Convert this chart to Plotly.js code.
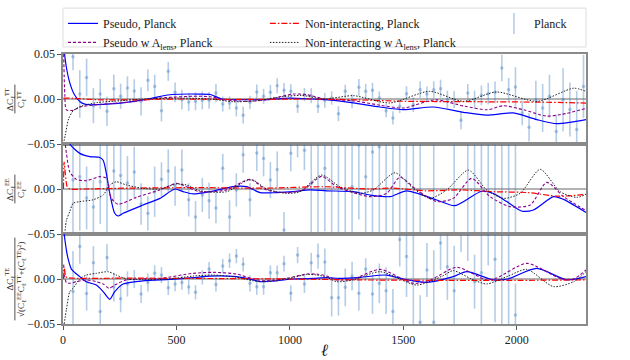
<!DOCTYPE html>
<html>
<head>
<meta charset="utf-8">
<script src="https://cdn.plot.ly/plotly-3.0.1.min.js"></script>
<style>html,body{margin:0;padding:0;background:#fff}</style>
</head>
<body>
<div id="myPlot" style="width:630px;height:360px"></div>
<script>
// Planck binned points (multipole bin centres), one set per panel
const ttEll = [44, 74, 104, 134, 164, 194, 224, 254, 284, 314, 344, 374, 404, 434, 464, 494, 524, 554, 584, 614,
  644, 674, 704, 734, 764, 794, 824, 854, 884, 914, 944, 974, 1004, 1034, 1064, 1094, 1124, 1154, 1184, 1214,
  1244, 1274, 1304, 1334, 1364, 1394, 1424, 1454, 1484, 1514, 1544, 1574, 1604, 1634, 1664, 1694, 1724, 1754, 1784, 1814,
  1844, 1874, 1904, 1934, 1964, 1994, 2024, 2054, 2084, 2114, 2144, 2174, 2204, 2234, 2264, 2294];
const ttVal = [0.047, 0.0056, 0.024, -0.0074, 0.0056, -0.0137, 0.0115, 0.003, 0.0122, 0.0089, -0.0026, 0.0207, 0.014, -0.013, 0.0307, 0.0074, -0.0007, -0.0033, -0.0026, -0.0015,
  -0.0015, 0.0067, -0.0056, -0.0044, -0.010, -0.018, -0.0037, 0.0078, 0.003, 0.0074, 0.0148, 0.0096, 0.0085, -0.0081, 0.0048, 0.0037, -0.0081, -0.0015, 0.0011, -0.0163,
  0.0085, -0.0026, 0.013, 0.0085, 0.0096, 0.0011, -0.013, -0.021, -0.0081, 0.0059, -0.0063, 0.0104, 0.0056, 0.0104, 0.0115, -0.0007, -0.0007, -0.0237, 0.0067, -0.0007,
  0.0041, 0.0059, 0.0074, 0.0344, 0.0104, 0.0133, -0.0155, -0.0315, -0.0007, -0.010, 0.003, -0.036, -0.0007, -0.0118, -0.034, 0.014];
const ttErr = [0.015, 0.0265, 0.021, 0.0194, 0.0167, 0.0163, 0.0157, 0.014, 0.013, 0.013, 0.0156, 0.012, 0.013, 0.012, 0.0105, 0.011, 0.011, 0.010, 0.010, 0.010,
  0.0093, 0.010, 0.0083, 0.0074, 0.0093, 0.0093, 0.0074, 0.0083, 0.0083, 0.0083, 0.0083, 0.0083, 0.0078, 0.0074, 0.0074, 0.0083, 0.0074, 0.0083, 0.0074, 0.0083,
  0.0074, 0.0078, 0.0093, 0.0083, 0.0083, 0.0074, 0.0074, 0.0074, 0.0074, 0.0083, 0.0083, 0.0093, 0.0083, 0.0093, 0.010, 0.010, 0.0093, 0.010, 0.010, 0.010,
  0.011, 0.012, 0.012, 0.0148, 0.013, 0.022, 0.0137, 0.0156, 0.021, 0.0267, 0.024, 0.0185, 0.035, 0.030, 0.043, 0.035];

const eeEll = [44, 74, 104, 134, 164, 194, 224, 254, 284, 314, 344, 374, 404, 434, 464, 494, 524, 554, 584, 614,
  644, 674, 704, 734, 764, 794, 824, 854, 884, 914, 944, 974, 1004, 1034, 1064, 1094, 1124, 1154, 1184, 1214,
  1244, 1274, 1304, 1334, 1364, 1394, 1424, 1454, 1484, 1514, 1544, 1574, 1634, 1724, 1784, 1814, 1844, 1874, 1904, 1934, 1964, 1994];
const eeVal = [0.01, 0.0137, -0.01, -0.02, 0.008, 0.0, 0.02, 0.015, 0.0067, 0.019, -0.0167, -0.027, -0.003, 0.0107, 0.020, 0.0033, 0.021, -0.012, -0.031, -0.0067,
  -0.013, -0.021, 0.023, -0.031, -0.001, 0.038, -0.012, 0.04, 0.034, 0.01, 0.0218, -0.0455, 0.0396, 0.06, 0.043, 0.006, 0.065, 0.023, -0.065, 0.065,
  -0.065, 0.0026, 0.049, 0.0137, 0.041, 0.047, -0.065, 0.065, -0.065, 0.065, -0.065, 0.065, -0.065, 0.065, -0.065, 0.065, -0.065, 0.065, -0.065, 0.065, -0.065, 0.065];
const eeErr = [0.07, 0.06, 0.035, 0.03, 0.047, 0.05, 0.035, 0.045, 0.03, 0.028, 0.023, 0.019, 0.028, 0.019, 0.024, 0.022, 0.023, 0.0185, 0.0176, 0.019,
  0.020, 0.017, 0.016, 0.0185, 0.0185, 0.02, 0.0185, 0.02, 0.02, 0.02, 0.02, 0.02, 0.02, 0.025, 0.022, 0.06, 0.125, 0.07, 0.125, 0.125,
  0.125, 0.07, 0.083, 0.07, 0.09, 0.1, 0.125, 0.125, 0.125, 0.125, 0.125, 0.125, 0.125, 0.125, 0.125, 0.125, 0.125, 0.125, 0.125, 0.125, 0.125, 0.125];

const teEll = [44, 74, 104, 134, 164, 194, 224, 254, 284, 314, 344, 374, 404, 434, 464, 494, 524, 554, 584, 614,
  644, 674, 704, 734, 764, 794, 824, 854, 884, 914, 944, 974, 1004, 1034, 1064, 1094, 1124, 1154, 1184, 1214,
  1244, 1274, 1304, 1334, 1364, 1394, 1424, 1454, 1484, 1514, 1544, 1574, 1604, 1634, 1664, 1694, 1724, 1754, 1784, 1814,
  1844, 1874, 1904, 1934, 1964, 1994];
const teVal = [-0.014, 0.036, -0.016, 0.018, -0.036, 0.024, -0.009, -0.022, -0.0055, 0.0, -0.0167, -0.004, 0.0063, 0.0044, -0.0096, -0.0055, -0.004, -0.009, -0.0148, 0.0018,
  0.011, -0.006, 0.0144, 0.0204, 0.0255, 0.0163, -0.0048, -0.0085, -0.0085, 0.007, 0.007, 0.017, -0.0159, 0.0266, -0.0055, 0.018, 0.0255, 0.019, -0.0207, -0.0207,
  -0.0093, 0.0033, -0.0159, 0.011, -0.0167, -0.0048, -0.013, -0.036, 0.044, 0.025, -0.065, -0.048, 0.01, -0.048, 0.04, 0.0137, -0.013, 0.06, 0.05, -0.003,
  0.007, 0.05, 0.022, 0.065, -0.065, -0.04];
const teErr = [0.045, 0.019, 0.019, 0.0185, 0.02, 0.015, 0.016, 0.015, 0.014, 0.01, 0.01, 0.01, 0.009, 0.009, 0.008, 0.008, 0.008, 0.008, 0.008, 0.008,
  0.008, 0.008, 0.008, 0.008, 0.008, 0.008, 0.009, 0.009, 0.009, 0.008, 0.008, 0.0087, 0.009, 0.009, 0.01, 0.011, 0.014, 0.015, 0.021, 0.02,
  0.021, 0.016, 0.019, 0.012, 0.022, 0.022, 0.026, 0.025, 0.03, 0.045, 0.125, 0.03, 0.03, 0.08, 0.03, 0.037, 0.05, 0.03, 0.03, 0.03,
  0.07, 0.035, 0.07, 0.125, 0.125, 0.035];

// model curves, TT panel
const ttPseudoEll = [2, 15, 30, 50, 75, 100, 150, 280, 360, 430, 480, 600, 650, 700, 800, 900, 1000, 1100, 1160, 1279, 1397, 1500, 1632, 1765, 1867, 1985, 2088, 2176, 2305];
const ttPseudo = [0.06, 0.035, 0.018, 0.005, -0.003, -0.006, -0.0063, -0.0037, -0.0007, 0.003, 0.005, 0.0055, 0.005, 0.0, -0.0007, -0.0007, 0.001, 0.0, -0.0007, -0.0044, -0.0089, -0.0118, -0.0089, -0.0148, -0.018, -0.0155, -0.0229, -0.0274, -0.0229];
const ttPseudoAlEll = [3, 8, 15, 44, 74, 150, 280, 360, 450, 574, 650, 706, 809, 900, 1015, 1074, 1154, 1279, 1400, 1500, 1640, 1770, 1870, 1940, 2030, 2130, 2200, 2305];
const ttPseudoAl = [0.05, 0.005, -0.012, -0.0126, -0.009, -0.0063, -0.0037, -0.001, 0.0015, 0.003, 0.0025, -0.0007, -0.0026, -0.0007, 0.0055, 0.0048, 0.0, -0.002, -0.007, -0.010, -0.001, -0.008, -0.012, -0.0075, -0.012, -0.019, -0.017, -0.0105];
const ttNonIntEll = [2, 50, 150, 300, 500, 800, 1100, 1300, 1500, 1800, 2100, 2305];
const ttNonInt = [0.001, 0.0008, -0.0008, -0.001, 0.0, -0.0005, 0.0, -0.001, -0.0025, -0.003, -0.0035, -0.0045];
const ttNonIntAlEll = [2, 10, 25, 45, 80, 150, 250, 350, 500, 650, 750, 850, 950, 1050, 1150, 1280, 1440, 1615, 1765, 1910, 2090, 2250, 2305];
const ttNonIntAl = [-0.05, -0.04, -0.022, -0.013, -0.008, -0.004, -0.002, 0.0, 0.001, 0.0, -0.003, -0.002, 0.002, 0.004, 0.0, 0.0037, -0.0044, 0.0085, -0.0026, 0.0078, -0.0026, 0.012, 0.0085];

// model curves, EE panel
const eePseudoEll = [2, 20, 30, 74, 118, 162, 177, 191, 206, 228, 243, 265, 353, 427, 493, 530, 574, 647, 750, 809, 868, 941, 1015, 1088, 1162, 1279, 1353, 1441, 1515, 1647, 1727, 1845, 1897, 1956, 2020, 2073, 2162, 2206, 2305];
const eePseudo = [0.09, 0.06, 0.05, 0.0396, 0.036, 0.035, 0.032, 0.0174, -0.0048, -0.027, -0.030, -0.027, -0.0178, -0.0104, 0.0, -0.003, -0.0055, -0.003, 0.0026, 0.0026, -0.004, -0.004, -0.003, -0.001, -0.002, -0.003, -0.0067, -0.0085, -0.002, -0.0122, -0.0185, -0.0025, -0.005, -0.014, -0.0244, -0.0233, -0.0085, -0.0115, -0.026];
const eePseudoAlEll = [5, 15, 30, 59, 103, 162, 191, 213, 243, 323, 427, 500, 544, 603, 721, 824, 897, 985, 1059, 1140, 1206, 1279, 1353, 1426, 1485, 1559, 1647, 1720, 1801, 1882, 1970, 2059, 2132, 2206, 2305];
const eePseudoAl = [0.06, 0.04, 0.019, 0.0107, 0.0093, 0.0137, 0.012, -0.0104, -0.017, -0.0093, -0.001, 0.0063, 0.0026, -0.003, -0.001, 0.0107, -0.001, -0.004, -0.001, 0.014, 0.0026, -0.004, -0.0085, -0.005, 0.013, -0.001, -0.014, -0.0104, 0.0118, -0.0085, -0.0196, -0.0178, 0.0074, -0.0085, -0.024];
const eeNonIntEll = [2, 5, 10, 18, 30, 100, 300, 600, 900, 1150, 1350, 1450, 1600, 1750, 1900, 2050, 2180, 2305];
const eeNonInt = [0.0, 0.03, 0.018, 0.003, 0.0, 0.0, 0.001, 0.0015, 0.001, 0.0025, 0.0, 0.001, -0.002, -0.001, -0.003, -0.004, -0.008, -0.006];
const eeNonIntAlEll = [8, 15, 30, 44, 74, 132, 177, 206, 235, 280, 353, 427, 500, 544, 603, 721, 809, 838, 897, 985, 1044, 1140, 1220, 1309, 1368, 1463, 1544, 1617, 1691, 1787, 1867, 1941, 2015, 2103, 2191, 2264, 2305];
const eeNonIntAl = [-0.05, -0.035, -0.025, -0.016, -0.014, -0.012, -0.0067, 0.0044, 0.008, 0.0044, 0.0007, 0.0, 0.0055, 0.0045, -0.002, -0.003, 0.0093, 0.01, 0.0, -0.0048, -0.003, 0.0155, 0.0026, -0.0048, -0.001, 0.018, 0.0007, -0.0104, -0.001, 0.021, -0.001, -0.0104, -0.0048, 0.0218, -0.003, -0.0093, -0.006];

// model curves, TE panel
const tePseudoEll = [5, 15, 22, 37, 74, 103, 147, 177, 206, 228, 265, 353, 471, 574, 647, 765, 838, 868, 941, 1015, 1103, 1162, 1220, 1309, 1426, 1500, 1603, 1720, 1779, 1897, 1960, 2088, 2221, 2305];
const tePseudo = [0.05, 0.032, 0.023, 0.011, 0.0026, -0.003, -0.0067, -0.014, -0.0226, -0.014, -0.0055, -0.002, -0.0004, 0.0015, 0.0033, 0.0026, -0.001, -0.003, -0.002, 0.0, 0.0007, 0.0015, 0.0007, 0.0018, 0.0044, 0.0, -0.0037, 0.0026, 0.0081, -0.001, 0.0, 0.0118, -0.001, 0.0026];
const tePseudoAlEll = [3, 8, 15, 30, 59, 103, 147, 177, 203, 228, 280, 427, 574, 662, 765, 838, 897, 985, 1074, 1118, 1162, 1206, 1279, 1397, 1544, 1620, 1735, 1867, 1911, 2044, 2191, 2250, 2305];
const tePseudoAl = [0.016, 0.002, -0.004, -0.0048, -0.003, -0.001, -0.003, -0.0055, -0.0104, -0.0067, -0.001, 0.0007, 0.0063, 0.0074, 0.0055, 0.0, -0.002, 0.0007, 0.0055, 0.0055, 0.0033, -0.001, 0.0, 0.0107, -0.0048, -0.001, 0.013, -0.001, 0.001, 0.0174, 0.0007, 0.0, 0.01];
const teNonIntEll = [2, 6, 12, 20, 300, 700, 1000, 1300, 1700, 2000, 2305];
const teNonInt = [0.0, 0.012, 0.003, 0.0015, 0.001, 0.0005, 0.0, -0.001, -0.0015, -0.0015, -0.001];
const teNonIntAlEll = [5, 15, 30, 44, 74, 103, 147, 199, 235, 280, 353, 470, 574, 662, 765, 838, 900, 985, 1074, 1118, 1162, 1206, 1279, 1397, 1559, 1670, 1720, 1800, 1867, 1960, 2044, 2162, 2250, 2305];
const teNonIntAl = [-0.05, -0.034, -0.014, -0.0104, 0.0, 0.0044, 0.0063, 0.0081, 0.0044, 0.0, -0.0007, 0.0, 0.0033, 0.0044, 0.002, -0.002, -0.003, 0.0, 0.005, 0.0045, 0.002, -0.003, -0.001, 0.0081, -0.0067, 0.003, 0.0093, 0.0, -0.0055, 0.003, 0.0107, -0.0085, -0.003, 0.0081];

const FONT = "Liberation Serif, Times New Roman, serif";
const PLANCK = "rgba(60,120,190,0.38)";

const styles = {
  pseudo: { color: "#0000ff", width: 1.2 },
  pseudoAl: { color: "#8b008b", width: 1.1, dash: "3px,2px" },
  nonInt: { color: "#ff0000", width: 1.2, dash: "6px,2px,1.5px,2px" },
  nonIntAl: { color: "#222222", width: 1, dash: "1.5px,1.5px" },
};

function curve(x, y, name, style, ax, legend, show) {
  return {
    x: x, y: y, name: name, type: "scatter", mode: "lines",
    line: Object.assign({ shape: "spline", smoothing: 0.7 }, style),
    xaxis: "x" + ax, yaxis: "y" + ax, legend: legend, showlegend: show,
    hoverinfo: "skip",
  };
}

function planck(x, y, err, ax) {
  return {
    x: x, y: y, name: "Planck", type: "scatter", mode: "markers",
    marker: { color: PLANCK, size: 3.5 },
    error_y: { type: "data", array: err, color: PLANCK, thickness: 1.6, width: 0 },
    xaxis: "x" + ax, yaxis: "y" + ax, showlegend: false,
    hoverinfo: "skip",
  };
}

const panels = [
  { ax: "", pl: [ttEll, ttVal, ttErr], c: [[ttPseudoEll, ttPseudo], [ttPseudoAlEll, ttPseudoAl], [ttNonIntEll, ttNonInt], [ttNonIntAlEll, ttNonIntAl]] },
  { ax: "2", pl: [eeEll, eeVal, eeErr], c: [[eePseudoEll, eePseudo], [eePseudoAlEll, eePseudoAl], [eeNonIntEll, eeNonInt], [eeNonIntAlEll, eeNonIntAl]] },
  { ax: "3", pl: [teEll, teVal, teErr], c: [[tePseudoEll, tePseudo], [tePseudoAlEll, tePseudoAl], [teNonIntEll, teNonInt], [teNonIntAlEll, teNonIntAl]] },
];

const data = [];
panels.forEach((p, i) => {
  const first = i === 0;
  data.push(planck(p.pl[0], p.pl[1], p.pl[2], p.ax));
  data.push(curve(p.c[0][0], p.c[0][1], "Pseudo, Planck", styles.pseudo, p.ax, "legend", first));
  data.push(curve(p.c[1][0], p.c[1][1], "Pseudo w A<sub>lens</sub>, Planck", styles.pseudoAl, p.ax, "legend", first));
  data.push(curve(p.c[2][0], p.c[2][1], "Non-interacting, Planck", styles.nonInt, p.ax, "legend2", first));
  data.push(curve(p.c[3][0], p.c[3][1], "Non-interacting w A<sub>lens</sub>, Planck", styles.nonIntAl, p.ax, "legend2", first));
});
// legend key for the Planck points: a vertical error-bar glyph
data.push({
  x: [null], y: [null], name: "Planck", type: "scatter", mode: "markers",
  marker: { symbol: "line-ns", size: 15, line: { color: PLANCK, width: 1.6 } },
  legend: "legend3", showlegend: true, hoverinfo: "skip",
});

const frame = { showline: true, mirror: true, linecolor: "#8a8a8a", linewidth: 1.6, zeroline: false, showgrid: false };
function xAxis(anchor, labels) {
  return Object.assign({}, frame, {
    anchor: anchor, range: [0, 2305], domain: [0, 1],
    tickvals: [0, 500, 1000, 1500, 2000], showticklabels: labels,
    ticks: labels ? "outside" : "", ticklen: 4, tickcolor: "#555",
    tickfont: { family: FONT, size: 12, color: "#222" },
  });
}
function yAxis(anchor, domain, ticks) {
  return Object.assign({}, frame, {
    anchor: anchor, domain: domain, range: [-0.05, 0.05],
    tickvals: ticks, tickformat: ".2f", ticks: "outside", ticklen: 4, tickcolor: "#555",
    tickfont: { family: FONT, size: 12, color: "#222" },
  });
}

const xa3 = xAxis("y3", true);
xa3.title = { text: "<i>ℓ</i>", font: { family: FONT, size: 17, color: "#222" }, standoff: 2 };

const legBase = { orientation: "v", yanchor: "top", xanchor: "left", bgcolor: "rgba(0,0,0,0)", borderwidth: 0,
  font: { family: FONT, size: 12, color: "#222" }, itemwidth: 30, traceorder: "normal" };

const yTitles = [
  { ref: "y domain", text: "ΔC<sub>ℓ</sub><sup>TT</sup><br>C<sub>ℓ</sub><sup>TT</sup>", len: 0.16 },
  { ref: "y2 domain", text: "ΔC<sub>ℓ</sub><sup>EE</sup><br>C<sub>ℓ</sub><sup>EE</sup>", len: 0.16 },
  { ref: "y3 domain", text: "ΔC<sub>ℓ</sub><sup>TE</sup><br>√(C<sub>ℓ</sub><sup>EE</sup>C<sub>ℓ</sub><sup>TT</sup>+(C<sub>ℓ</sub><sup>TE</sup>)<sup>2</sup>)", len: 0.46 },
];

const annotations = yTitles.map((t) => ({
  xref: "paper", yref: t.ref, x: -0.092, y: 0.5, xanchor: "center", yanchor: "middle",
  text: t.text, textangle: -90, showarrow: false, font: { family: FONT, size: 9, color: "#222" },
}));

const shapes = [];
yTitles.forEach((t, i) => {
  const ax = i === 0 ? "y" : "y" + (i + 1);
  // zero reference line
  shapes.push({ type: "line", xref: "x" + (i === 0 ? "" : i + 1) + " domain", x0: 0, x1: 1, yref: ax, y0: 0, y1: 0,
    line: { color: "#9a9a9a", width: 1.5 }, layer: "below" });
  // fraction bar of the rotated label
  shapes.push({ type: "line", xref: "paper", x0: -0.092, x1: -0.092, yref: t.ref, y0: 0.5 - t.len, y1: 0.5 + t.len,
    line: { color: "#222", width: 0.8 } });
});
// legend frame
shapes.push({ type: "rect", xref: "paper", yref: "paper", x0: 0, x1: 1, y0: 1.026, y1: 1.17,
  line: { color: "#dddddd", width: 1 }, fillcolor: "rgba(255,255,255,0.8)" });

const layout = {
  width: 630, height: 360,
  margin: { l: 63, r: 44, t: 54, b: 36, autoexpand: false },
  paper_bgcolor: "#fff", plot_bgcolor: "#fff",
  font: { family: FONT, color: "#222" },
  xaxis: xAxis("y", false),
  xaxis2: xAxis("y2", false),
  xaxis3: xa3,
  yaxis: yAxis("x", [2 / 3, 1], [-0.05, 0, 0.05]),
  yaxis2: yAxis("x2", [1 / 3, 2 / 3], [-0.05, 0]),
  yaxis3: yAxis("x3", [0, 1 / 3], [-0.05, 0]),
  legend: Object.assign({}, legBase, { x: 0.0, y: 1.167 }),
  legend2: Object.assign({}, legBase, { x: 0.386, y: 1.167 }),
  legend3: Object.assign({}, legBase, { x: 0.824, y: 1.167 }),
  annotations: annotations,
  shapes: shapes,
  showlegend: true,
};

Plotly.newPlot("myPlot", data, layout, { displayModeBar: false, staticPlot: true });
</script>
</body>
</html>
